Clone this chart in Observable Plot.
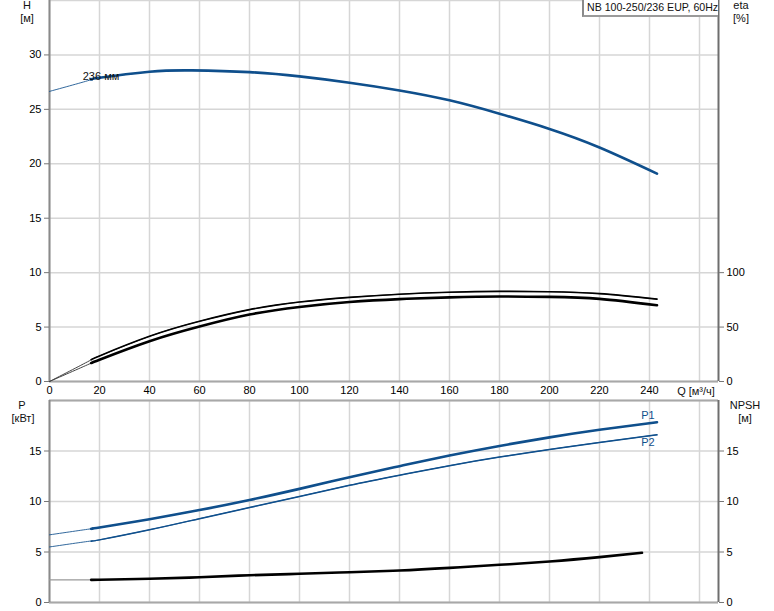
<!DOCTYPE html>
<html>
<head>
<meta charset="utf-8">
<script src="https://cdn.jsdelivr.net/npm/d3@7"></script>
<script src="https://cdn.jsdelivr.net/npm/@observablehq/plot@0.6"></script>
<style>
  html, body { margin: 0; padding: 0; background: #fff; }
  #wrap { position: relative; width: 774px; height: 611px; overflow: hidden;
          font-family: "Liberation Sans", Arial, sans-serif; font-size: 11px; color: #111; }
  #wrap svg { position: absolute; left: 0; }
  .lbl { position: absolute; transform: translate(-50%, -50%); white-space: nowrap; line-height: 1; }
  #title { position: absolute; left: 582px; top: 0; width: 131px; height: 15px; background: #fff;
           border-left: 2px solid #8a8a8a; border-bottom: 2px solid #9a9a9a; box-sizing: content-box;
           line-height: 15px; padding-left: 3px; white-space: nowrap; font-size: 10.6px; }
</style>
</head>
<body>
<div id="wrap"></div>
<script>
// ---------- data ----------
const Q_MAX = 267.6;
const X_TICKS = [0, 20, 40, 60, 80, 100, 120, 140, 160, 180, 200, 220, 240];
const X_GRID = [0, 20, 40, 60, 80, 100, 120, 140, 160, 180, 200, 220, 240, 260];
const H_TICKS = [0, 5, 10, 15, 20, 25, 30];
const H_GRID = [0, 5, 10, 15, 20, 25, 30, 35];
const ETA_TICKS = [0, 50, 100];
const P_TICKS = [0, 5, 10, 15];
const P_GRID = [0, 5, 10, 15, 20];
const NPSH_TICKS = [0, 5, 10, 15];

const Q_START = 17; // start of the operating range (thick part)

const Q_H = [0, 17, 20, 40, 57, 80, 100, 120, 140, 160, 180, 200, 220, 243];
const H   = [26.65, 27.75, 27.9, 28.45, 28.58, 28.42, 28.03, 27.45, 26.74, 25.83, 24.6, 23.2, 21.5, 19.1];

const Q_ETA     = [0, 17, 20, 40, 60, 80, 100, 120, 140, 160, 180, 200, 220, 243];
const ETA_UPPER = [0, 20.3, 23.5, 41.5, 55.3, 66, 73, 77.3, 80.2, 82, 82.8, 82.5, 80.7, 75.7];
const ETA_LOWER = [0, 17.2, 20, 37, 50.5, 61.5, 68.5, 73, 75.7, 77.3, 78.1, 77.7, 75.9, 70];

const Q_P = [0, 17, 20, 40, 60, 80, 100, 120, 140, 160, 180, 200, 220, 243];
const P1  = [6.7, 7.31, 7.42, 8.25, 9.15, 10.15, 11.25, 12.4, 13.5, 14.55, 15.5, 16.35, 17.1, 17.85];
const P2  = [5.5, 6.1, 6.2, 7.2, 8.3, 9.4, 10.5, 11.6, 12.6, 13.55, 14.4, 15.15, 15.85, 16.6];

const Q_NPSH = [0, 17, 20, 40, 60, 80, 100, 120, 140, 160, 180, 200, 220, 237];
const NPSH   = [2.25, 2.25, 2.25, 2.35, 2.5, 2.7, 2.84, 3.0, 3.17, 3.43, 3.73, 4.06, 4.49, 4.92];

const TITLE = "NB 100-250/236 EUP, 60Hz";
const IMPELLER = "236 мм";

(function () {
// ---------- tables ----------
const hData = Q_H.map((q, i) => ({q, v: H[i]}));
const etaU = Q_ETA.map((q, i) => ({q, v: ETA_UPPER[i] / 10}));
const etaL = Q_ETA.map((q, i) => ({q, v: ETA_LOWER[i] / 10}));
const p1Data = Q_P.map((q, i) => ({q, v: P1[i]}));
const p2Data = Q_P.map((q, i) => ({q, v: P2[i]}));
const npshData = Q_NPSH.map((q, i) => ({q, v: NPSH[i]}));
const op = d => d.filter(r => r.q >= Q_START);

const BLUE = "#0f4f8c";
const GRID = "#d6d6d6";
const FONT = "'Liberation Sans', Arial, sans-serif";
const curve = "natural";

const wrap = document.getElementById("wrap");

// ---------- top panel: H / eta ----------
const topPlot = Plot.plot({
  width: 774, height: 400,
  marginLeft: 49, marginRight: 56, marginTop: 0, marginBottom: 19,
  x: {domain: [0, Q_MAX]},
  y: {domain: [0, 35]},
  style: {fontFamily: FONT, fontSize: "11px", color: "#000", background: "transparent", overflow: "visible"},
  marks: [
    Plot.gridX(X_GRID, {stroke: GRID, strokeOpacity: 1, strokeWidth: 1.5}),
    Plot.gridY(H_GRID, {stroke: GRID, strokeOpacity: 1, strokeWidth: 1.5}),
    Plot.ruleY([0], {stroke: "#a8a8a8", strokeWidth: 2}),
    Plot.ruleX([0], {stroke: "#8a8a8a", strokeWidth: 2}),
    Plot.ruleX([Q_MAX], {stroke: "#6e6e6e", strokeWidth: 2}),
    Plot.axisX(X_TICKS, {tickSize: 0, tickPadding: 5, label: null, fill: "#000"}),
    Plot.axisY(H_TICKS, {anchor: "left", tickSize: 5, tickPadding: 3, label: null, stroke: "#777", fill: "#000"}),
    Plot.axisY(ETA_TICKS.map(e => e / 10), {anchor: "right", tickSize: 5, tickPadding: 3, label: null,
      stroke: "#777", fill: "#000", tickFormat: d => Math.round(d * 10)}),
    // eta curves
    Plot.line(etaU, {x: "q", y: "v", curve, stroke: "#444", strokeWidth: 1}),
    Plot.line(etaL, {x: "q", y: "v", curve, stroke: "#444", strokeWidth: 1}),
    Plot.line(op(etaU), {x: "q", y: "v", curve, stroke: "#000", strokeWidth: 1.6}),
    Plot.line(op(etaL), {x: "q", y: "v", curve, stroke: "#000", strokeWidth: 2.6}),
    // H curve
    Plot.line(hData, {x: "q", y: "v", curve, stroke: BLUE, strokeWidth: 1, strokeOpacity: 0.85}),
    Plot.line(op(hData), {x: "q", y: "v", curve, stroke: BLUE, strokeWidth: 2.6}),
    Plot.text(hData.filter(d => d.q === Q_START), {x: "q", y: "v", text: () => IMPELLER,
      dx: 9, dy: -3, fill: "#111", fontSize: 11})
  ]
});
topPlot.style.top = "0px";
wrap.appendChild(topPlot);

// ---------- bottom panel: P / NPSH ----------
const bottomPlot = Plot.plot({
  width: 774, height: 221,
  marginLeft: 49, marginRight: 56, marginTop: 10, marginBottom: 9,
  x: {domain: [0, Q_MAX]},
  y: {domain: [0, 20]},
  style: {fontFamily: FONT, fontSize: "11px", color: "#000", background: "transparent", overflow: "visible"},
  marks: [
    Plot.gridX(X_GRID, {stroke: GRID, strokeOpacity: 1, strokeWidth: 1.5}),
    Plot.gridY(P_GRID, {stroke: GRID, strokeOpacity: 1, strokeWidth: 1.5}),
    Plot.ruleY([0], {stroke: "#a8a8a8", strokeWidth: 2}),
    Plot.ruleY([20], {stroke: "#a8a8a8", strokeWidth: 2}),
    Plot.ruleX([0], {stroke: "#8a8a8a", strokeWidth: 2}),
    Plot.ruleX([Q_MAX], {stroke: "#6e6e6e", strokeWidth: 2}),
    Plot.axisX({ticks: [], tickSize: 0, label: null}),
    Plot.axisY(P_TICKS, {anchor: "left", tickSize: 5, tickPadding: 3, label: null, stroke: "#777", fill: "#000"}),
    Plot.axisY(NPSH_TICKS, {anchor: "right", tickSize: 5, tickPadding: 3, label: null, stroke: "#777", fill: "#000"}),
    // NPSH
    Plot.line(npshData.filter(d => d.q <= Q_START), {x: "q", y: "v", stroke: "#999", strokeWidth: 1.2}),
    Plot.line(op(npshData), {x: "q", y: "v", curve, stroke: "#000", strokeWidth: 2.6}),
    // P1 / P2
    Plot.line(p1Data, {x: "q", y: "v", curve, stroke: BLUE, strokeWidth: 1, strokeOpacity: 0.85}),
    Plot.line(p2Data, {x: "q", y: "v", curve, stroke: BLUE, strokeWidth: 1, strokeOpacity: 0.85}),
    Plot.line(op(p1Data), {x: "q", y: "v", curve, stroke: BLUE, strokeWidth: 2.6}),
    Plot.line(op(p2Data), {x: "q", y: "v", curve, stroke: BLUE, strokeWidth: 1.5}),
    Plot.text(p1Data.slice(-1), {x: "q", y: "v", text: () => "P1", dx: -9, dy: -7, fill: BLUE, fontSize: 11}),
    Plot.text(p2Data.slice(-1), {x: "q", y: "v", text: () => "P2", dx: -9, dy: 8, fill: BLUE, fontSize: 11})
  ]
});
bottomPlot.style.top = "390px";
wrap.appendChild(bottomPlot);

// ---------- text labels ----------
function label(text, x, y) {
  const d = document.createElement("div");
  d.className = "lbl";
  d.textContent = text;
  d.style.left = x + "px";
  d.style.top = y + "px";
  wrap.appendChild(d);
}
label("H", 27, 5);
label("[м]", 27, 18);
label("eta", 741, 5);
label("[%]", 741, 18);
label("Q [м³/ч]", 696, 391);
label("P", 22, 405);
label("[кВт]", 23, 418);
label("NPSH", 745, 405);
label("[м]", 745, 418);

const t = document.createElement("div");
t.id = "title";
t.textContent = TITLE;
wrap.appendChild(t);
})();
</script>
</body>
</html>
